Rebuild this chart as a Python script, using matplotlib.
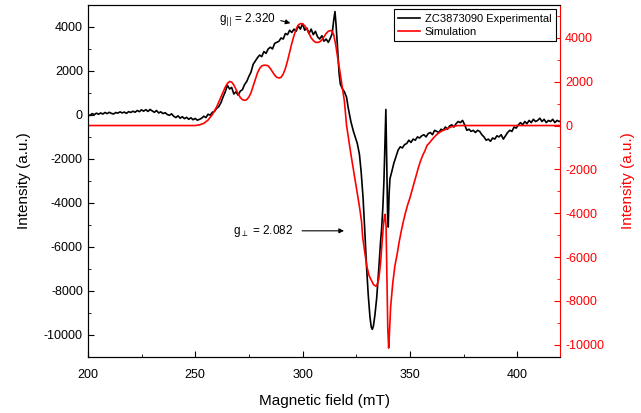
import numpy as np
import matplotlib
matplotlib.use("Agg")
import matplotlib.pyplot as plt
from matplotlib.ticker import MultipleLocator

# --------------------------------------------------
# Data
# --------------------------------------------------
# experimental spectrum (left axis)
exp_field = [200, 201, 202, 203, 204, 205, 206, 207, 208, 209, 210, 211, 212, 213, 214,
             215, 216, 217, 218, 219, 220, 221, 222, 223, 224, 225, 226, 227, 228, 229,
             230, 231, 232, 233, 234, 235, 236, 237, 238, 239, 240, 241, 242, 243, 244,
             245, 246, 247, 248, 249, 250, 251, 252, 253, 254, 255, 256, 257, 258, 259,
             260, 261, 262, 263, 264, 265, 266, 267, 268, 269, 270, 271, 272, 273, 274,
             275, 276, 277, 278, 279, 280, 281, 282, 283, 284, 285, 286, 287, 288, 289,
             290, 291, 292, 293, 294, 295, 296, 297, 298, 299, 300, 301, 302, 303, 304,
             305, 306, 307, 308, 309, 310, 311, 312, 313, 313.8, 314.5, 315.1, 315.6, 316.2,
             317, 317.6, 318.5, 319.5, 320.5, 321.3, 322.5, 323.7, 324.5, 325.5, 326.5,
             327.3, 328.2, 329, 329.8, 330.6, 331.4, 332, 332.5, 333, 333.7, 334.5, 335.5,
             336.3, 336.8, 337.4, 337.9, 338.4, 338.8, 339.2, 339.6, 339.9, 340.3, 340.7,
             341.5, 342.5, 343.5, 344.5, 345.5, 346.5, 347.5, 348.5, 349.5, 350.5, 351.5,
             352.5, 353.5, 354.5, 355.5, 356.5, 357.5, 358.5, 359.5, 360.5, 361.5, 362.5,
             363.5, 364.5, 365.5, 366.5, 367.5, 368.5, 369.5, 370.5, 371.5, 372.5, 373.5,
             374.5, 375.5, 376.5, 377.5, 378.5, 379.5, 380.5, 381.5, 382.5, 383.5, 384.5,
             385.5, 386.5, 387.5, 388.5, 389.5, 390.5, 391.5, 392.5, 393.5, 394.5, 395.5,
             396.5, 397.5, 398.5, 399.5, 400.5, 401.5, 402.5, 403.5, 404.5, 405.5, 406.5,
             407.5, 408.5, 409.5, 410.5, 411.5, 412.5, 413.5, 414.5, 415.5, 416.5, 417.5,
             418.5, 419.5, 420]
exp_intensity = [20, -30, 60, 10, 80, 30, 90, 40, 110, 60, 120, 70, 40, 110, 80,
                 140, 90, 130, 70, 150, 110, 170, 120, 200, 150, 230, 170, 240, 160, 250,
                 180, 120, 200, 90, 140, 60, 100, 20, -20, 50, -60, -120, -40, -150, -80,
                 -170, -110, -200, -130, -220, -160, -240, -200, -150, -60, -120, 30, -10, 120, 160,
                 300, 380, 560, 820, 1050, 1350, 1180, 1250, 950, 1050, 900, 1080, 1150, 1380, 1520,
                 1750, 1950, 2300, 2450, 2600, 2720, 2650, 2880, 2800, 3000, 3080, 3000, 3250, 3300, 3350,
                 3500, 3450, 3700, 3650, 3850, 3750, 3900, 3800, 4050, 3900, 4150, 3850, 3950, 3700, 3900,
                 3650, 3800, 3550, 3450, 3600, 3350, 3450, 3300, 3500, 3700, 4300, 4700, 4100, 3200,
                 1900, 1400, 1200, 1050, 800, 300, -300, -750, -1000, -1300, -1800,
                 -2600, -3800, -5300, -6900, -8200, -9200, -9650, -9750, -9600, -9100, -8350, -7000,
                 -5800, -5200, -4200, -3000, -1200, 250, -2000, -4500, -5100, -3600, -2900,
                 -2600, -2200, -1900, -1600, -1450, -1500, -1350, -1300, -1150, -1250, -1100,
                 -1150, -1000, -1050, -950, -900, -1000, -850, -800, -900, -700, -750,
                 -800, -650, -700, -550, -650, -500, -450, -550, -400, -300, -350,
                 -250, -450, -700, -650, -750, -700, -800, -700, -750, -900, -1000,
                 -1150, -1100, -1200, -1050, -1100, -950, -1000, -900, -1100, -950, -800,
                 -700, -750, -550, -600, -450, -350, -450, -300, -400, -250, -350,
                 -200, -300, -250, -150, -300, -200, -350, -250, -300, -200, -350,
                 -250, -300, -280]

# simulated spectrum (right axis)
sim_field = [200, 250, 252, 254, 256, 258, 260, 262, 264, 265, 266, 267, 268, 269, 270,
             271, 272, 273, 274, 275, 276, 277, 278, 279, 280, 281, 282, 283, 284, 285,
             286, 287, 288, 289, 290, 291, 292, 293, 294, 295, 296, 297, 298, 299, 300,
             301, 302, 303, 304, 305, 306, 307, 308, 309, 310, 311, 312, 313, 313.6, 314.5,
             315.5, 316.5, 317.5, 318.5, 319.5, 320.5, 321.5, 322.5, 323.5, 324.5, 325.5,
             326.5, 327.5, 328, 329, 330, 331, 332, 333, 334, 334.5, 335.5, 336.3, 336.8,
             337.6, 338.2, 338.5, 338.9, 339.3, 339.7, 340.1, 340.5, 341, 342, 343, 344,
             345, 346, 347, 348, 349, 350, 351, 352, 353, 354, 355, 356, 357, 358, 359,
             360, 361, 362, 363, 364, 365, 366, 367, 368, 369, 370, 371, 372, 374, 420]
sim_intensity = [0, 0, 30, 100, 250, 500, 850, 1300, 1750, 1920, 2010, 1980, 1850, 1650, 1450,
                 1280, 1180, 1150, 1180, 1300, 1500, 1800, 2100, 2400, 2600, 2720, 2750, 2750, 2720, 2600,
                 2450, 2300, 2200, 2170, 2200, 2350, 2600, 2950, 3350, 3750, 4100, 4400, 4580, 4650, 4640,
                 4550, 4400, 4200, 4000, 3880, 3800, 3790, 3820, 3900, 4050, 4200, 4300, 4330, 4330, 4150,
                 3650, 3000, 2400, 1750, 1100, 0, -650, -1300, -1900, -2500, -3100,
                 -3700, -4400, -5100, -5800, -6450, -6850, -7050, -7250, -7320, -7320, -7000, -6300, -5650,
                 -4600, -4100, -4050, -4600, -7000, -9300, -10150, -9400, -8300, -7200, -6400, -5900,
                 -5300, -4800, -4350, -3950, -3600, -3300, -2950, -2600, -2250, -1900, -1600, -1350, -1150, -900, -800,
                 -680, -560, -460, -370, -300, -240, -200, -160, -110, -70, -40, -20, -5, 0, 0]

plt.rcParams["font.family"] = ["Liberation Sans", "DejaVu Sans"]
plt.rcParams["mathtext.fontset"] = "dejavusans"
plt.rcParams["axes.unicode_minus"] = False

fig = plt.figure(figsize=(6.41, 4.13), dpi=100)
ax = fig.add_axes([0.137, 0.136, 0.737, 0.852])
ax2 = ax.twinx()

l1, = ax.plot(exp_field, exp_intensity, color="black", lw=1.2,
              label="ZC3873090 Experimental")
l2, = ax2.plot(sim_field, sim_intensity, color="red", lw=1.2, label="Simulation")

ax.set_xlim(200, 420)
ax.set_ylim(-11000, 5000)
ax2.set_ylim(-10550, 5500)

ax.xaxis.set_major_locator(MultipleLocator(50))
ax.xaxis.set_minor_locator(MultipleLocator(25))
ax.yaxis.set_major_locator(MultipleLocator(2000))
ax.yaxis.set_minor_locator(MultipleLocator(1000))
ax2.yaxis.set_major_locator(MultipleLocator(2000))
ax2.yaxis.set_minor_locator(MultipleLocator(1000))

ax.tick_params(axis="both", which="both", direction="in", labelsize=9, top=False)
ax.tick_params(which="major", length=4)
ax.tick_params(which="minor", length=2.5)
ax.tick_params(axis="x", which="both", pad=9)
ax2.tick_params(axis="y", which="both", direction="in", colors="red", labelsize=9)
ax2.tick_params(which="major", length=4)
ax2.tick_params(which="minor", length=2.5)
ax.spines["right"].set_visible(False)
ax2.spines["right"].set_color("red")

ax.set_xlabel("Magnetic field (mT)", fontsize=11, labelpad=9)
ax.set_ylabel("Intensity (a.u.)", fontsize=11, labelpad=9)
ax2.set_ylabel("Intensity (a.u.)", fontsize=11, color="red", labelpad=12)

# g-value annotations
ax.annotate("", xy=(295.6, 4140), xytext=(288.6, 4320),
            arrowprops=dict(arrowstyle="-|>", color="black", lw=0.8, mutation_scale=7))
ax.text(287.7, 4320, r"g$_{||}$ = 2.320", fontsize=8.5, ha="right", va="center")
ax.annotate("", xy=(320.6, -5270), xytext=(298.5, -5270),
            arrowprops=dict(arrowstyle="-|>", color="black", lw=0.8, mutation_scale=7))
ax.text(295.4, -5270, r"g$_{\perp}$ = 2.082", fontsize=8.5, ha="right", va="center")

leg = ax2.legend(handles=[l1, l2], loc="upper right", fontsize=8, fancybox=False,
                 edgecolor="black", framealpha=1, borderaxespad=0.4,
                 handlelength=2.0, handletextpad=0.4, labelspacing=0.25, borderpad=0.4)
leg.get_frame().set_linewidth(0.8)

fig.savefig("out.png", dpi=100)
